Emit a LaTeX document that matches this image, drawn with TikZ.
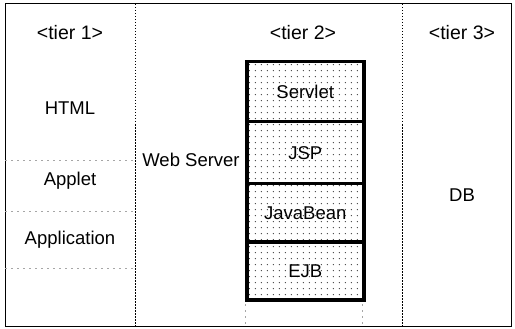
\documentclass[tikz,border=0pt]{standalone}
\usepackage{fontspec}
\setmainfont{Liberation Sans}
\usetikzlibrary{patterns}
\pgfdeclarepatternformonly{sparsedots}{\pgfpointorigin}{\pgfpoint{5.5pt}{5.5pt}}{\pgfpoint{5.5pt}{5.5pt}}{%
  \pgfpathcircle{\pgfpoint{1.5pt}{1.5pt}}{0.75pt}\pgfusepath{fill}}
\tikzset{
  lbl/.style={font=\fontsize{18.5}{20}\selectfont, inner sep=1pt},
  tierlbl/.style={font=\fontsize{19.5}{21}\selectfont, inner sep=1pt},
  compbox/.style={draw=black, line width=3.5pt, pattern=sparsedots, pattern color=black!75,
    minimum width=117pt, inner sep=0pt, anchor=north west},
  tierline/.style={line width=0.8pt, dash pattern=on 1.5pt off 1.5pt},
  rowline/.style={gray!70, line width=0.6pt, dash pattern=on 2pt off 4pt},
}
\begin{document}
\begin{tikzpicture}[x=1pt,y=-1pt]
\useasboundingbox (0,0) rectangle (515,329);
% outer frame
\draw[line width=1pt] (5,4) rectangle (511,326);
% tier separators
\draw[tierline] (135,4) -- (135,326);
\draw[tierline] (402,4) -- (402,326);
% tier 1 row lines
\draw[rowline] (5,160) -- (135,160);
\draw[rowline] (5,211) -- (135,211);
\draw[rowline] (5,268) -- (135,268);
% faint lines under stack
\draw[rowline] (245,298) -- (245,326);
\draw[rowline] (362,298) -- (362,326);
% component stack
\node[compbox, minimum height=60pt] (servlet) at (245,60) {};
\node[compbox, minimum height=62pt] (jsp) at (245,120) {};
\node[compbox, minimum height=58pt] (bean) at (245,182) {};
\node[compbox, minimum height=58pt] (ejb) at (245,240) {};
\node[lbl] at (servlet.center) {Servlet};
\node[lbl] at (jsp.center) {JSP};
\node[lbl] at (bean.center) {JavaBean};
\node[lbl] at (ejb.center) {EJB};
% labels
\node[tierlbl] (t1) at (70,33) {<tier 1>};
\node[tierlbl] (t2) at (303,33) {<tier 2>};
\node[tierlbl] (t3) at (462,33) {<tier 3>};
\node[lbl] (html) at (70,108) {HTML};
\node[lbl] (applet) at (70,181) {Applet};
\node[lbl] (app) at (70,240) {Application};
\node[lbl] (ws) at (191,160) {Web Server};
\node[lbl] (db) at (462,195) {DB};
\end{tikzpicture}
\end{document}
